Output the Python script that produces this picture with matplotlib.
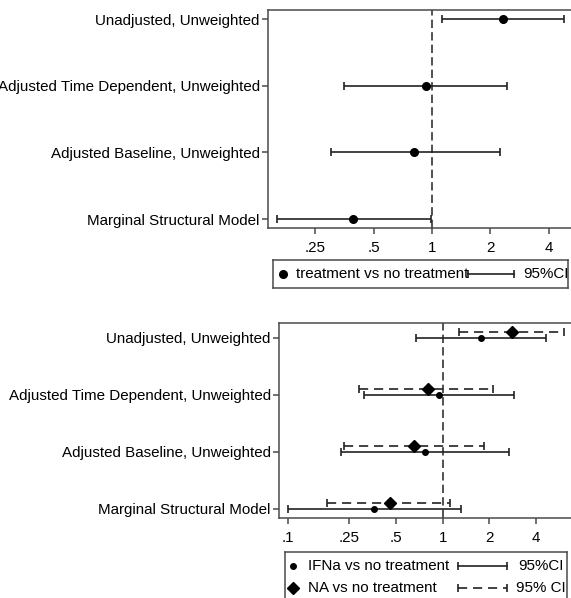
import matplotlib.pyplot as plt
import numpy as np

plt.rcParams['font.family'] = ['Liberation Sans', 'DejaVu Sans']

# --- data (hazard ratios)
rows = ['Unadjusted, Unweighted', 'Adjusted Time Dependent, Unweighted',
        'Adjusted Baseline, Unweighted', 'Marginal Structural Model']
ypos = [4, 3, 2, 1]

trt_est = [2.32, 0.93, 0.81, 0.39]
trt_lo = [1.12, 0.35, 0.30, 0.159]
trt_hi = [4.8, 2.43, 2.24, 0.99]

ifn_est = [1.76, 0.94, 0.77, 0.36]
ifn_lo = [0.67, 0.31, 0.22, 0.10]
ifn_hi = [4.6, 2.88, 2.69, 1.31]

na_est = [2.8, 0.80, 0.65, 0.46]
na_lo = [1.28, 0.29, 0.23, 0.18]
na_hi = [6.06, 2.12, 1.85, 1.11]

top_ticks = [0.25, 0.5, 1, 2, 4]
top_ticklabels = ['.25', '.5', '1', '2', '4']
bot_ticks = [0.1, 0.25, 0.5, 1, 2, 4]
bot_ticklabels = ['.1', '.25', '.5', '1', '2', '4']

W, H = 571, 598
GRAY = '#4a4a4a'
FS = 10.9
fig = plt.figure(figsize=(W / 100, H / 100), dpi=100)


def px_axes(l, t, r, b):
    # axes placed by pixel box (left, top, right, bottom)
    return fig.add_axes([l / W, 1 - b / H, (r - l) / W, (b - t) / H])


def style_axes(ax, ticks, labels):
    ax.set_xscale('log', base=2)
    ax.set_xticks(ticks)
    ax.set_xticklabels(labels)
    ax.minorticks_off()
    ax.set_yticks(ypos)
    ax.set_yticklabels(rows)
    for s in ax.spines.values():
        s.set_color(GRAY)
        s.set_linewidth(1.1)
    ax.tick_params(axis='both', direction='out', length=4, width=1.1,
                   color=GRAY, labelsize=FS)
    ax.tick_params(axis='x', pad=5)
    ax.tick_params(axis='y', pad=2)
    ax.axvline(1, color='#333333', lw=1.2, ls=(0, (5, 2.5)), zorder=1)


def ci(ax, est, lo, hi, y, marker, ms, dashed=False):
    est = np.array(est)
    err = [est - np.array(lo), np.array(hi) - est]
    eb = ax.errorbar(est, y, xerr=err, fmt=marker, ms=ms, color='black',
                     ecolor='#222222', elinewidth=1.2, capsize=3, capthick=1.2,
                     zorder=3)
    if dashed:
        eb[2][0].set_linestyle((0, (5.5, 3.5)))
    return eb


# --- top panel
ax1 = px_axes(268, 10, 576, 228)
style_axes(ax1, top_ticks, top_ticklabels)
ax1.set_xlim(2 ** ((268 - 432) / 58.3), 2 ** ((576 - 432) / 58.3))
ax1.set_ylim(0.865, 4.135)
ci(ax1, trt_est, trt_lo, trt_hi, ypos, 'o', 5.5)

# --- bottom panel
ax2 = px_axes(279, 323, 576, 518)
style_axes(ax2, bot_ticks, bot_ticklabels)
ax2.set_xlim(2 ** ((279 - 442.7) / 46.7), 2 ** ((576 - 442.7) / 46.7))
ax2.set_ylim(0.842, 4.263)
ci(ax2, ifn_est, ifn_lo, ifn_hi, ypos, 'o', 4)
ci(ax2, na_est, na_lo, na_hi, [y + 0.105 for y in ypos], 'D', 6, dashed=True)


# --- legends (drawn in small pixel-coordinate axes)
def legend_box(l, t, r, b):
    lax = px_axes(l, t, r, b)
    lax.set_xlim(l, r)
    lax.set_ylim(b, t)
    lax.set_xticks([])
    lax.set_yticks([])
    for s in lax.spines.values():
        s.set_color(GRAY)
        s.set_linewidth(1.1)
    return lax


def legend_row(lax, y, mx, marker, ms, tx, label, c0, c1, cx, cilabel,
               dashed=False):
    lax.plot([mx], [y], marker=marker, ms=ms, color='black', ls='none')
    lax.text(tx, y, label, va='center', ha='left', fontsize=FS)
    lax.plot([c0, c1], [y, y], color='#222222', lw=1.2,
             ls=(0, (5.5, 3.5)) if dashed else '-')
    lax.plot([c0, c1], [y, y], color='#222222', lw=1.2, ls='none',
             marker='|', ms=6, mew=1.2)
    lax.text(cx, y, cilabel, va='center', ha='left', fontsize=FS)


lg1 = legend_box(273, 260, 568, 288)
legend_row(lg1, 274, 282.7, 'o', 5.5, 296, 'treatment vs no treatment',
           468, 514, 523, '95%CI')

lg2 = legend_box(285, 552, 567, 610)
legend_row(lg2, 566, 292.7, 'o', 4, 308, 'IFNa vs no treatment',
           458, 507, 518, '95%CI')
legend_row(lg2, 588, 292.7, 'D', 6, 308, 'NA vs no treatment',
           458, 507, 516, '95% CI', dashed=True)

fig.savefig('out.png', dpi=100)
